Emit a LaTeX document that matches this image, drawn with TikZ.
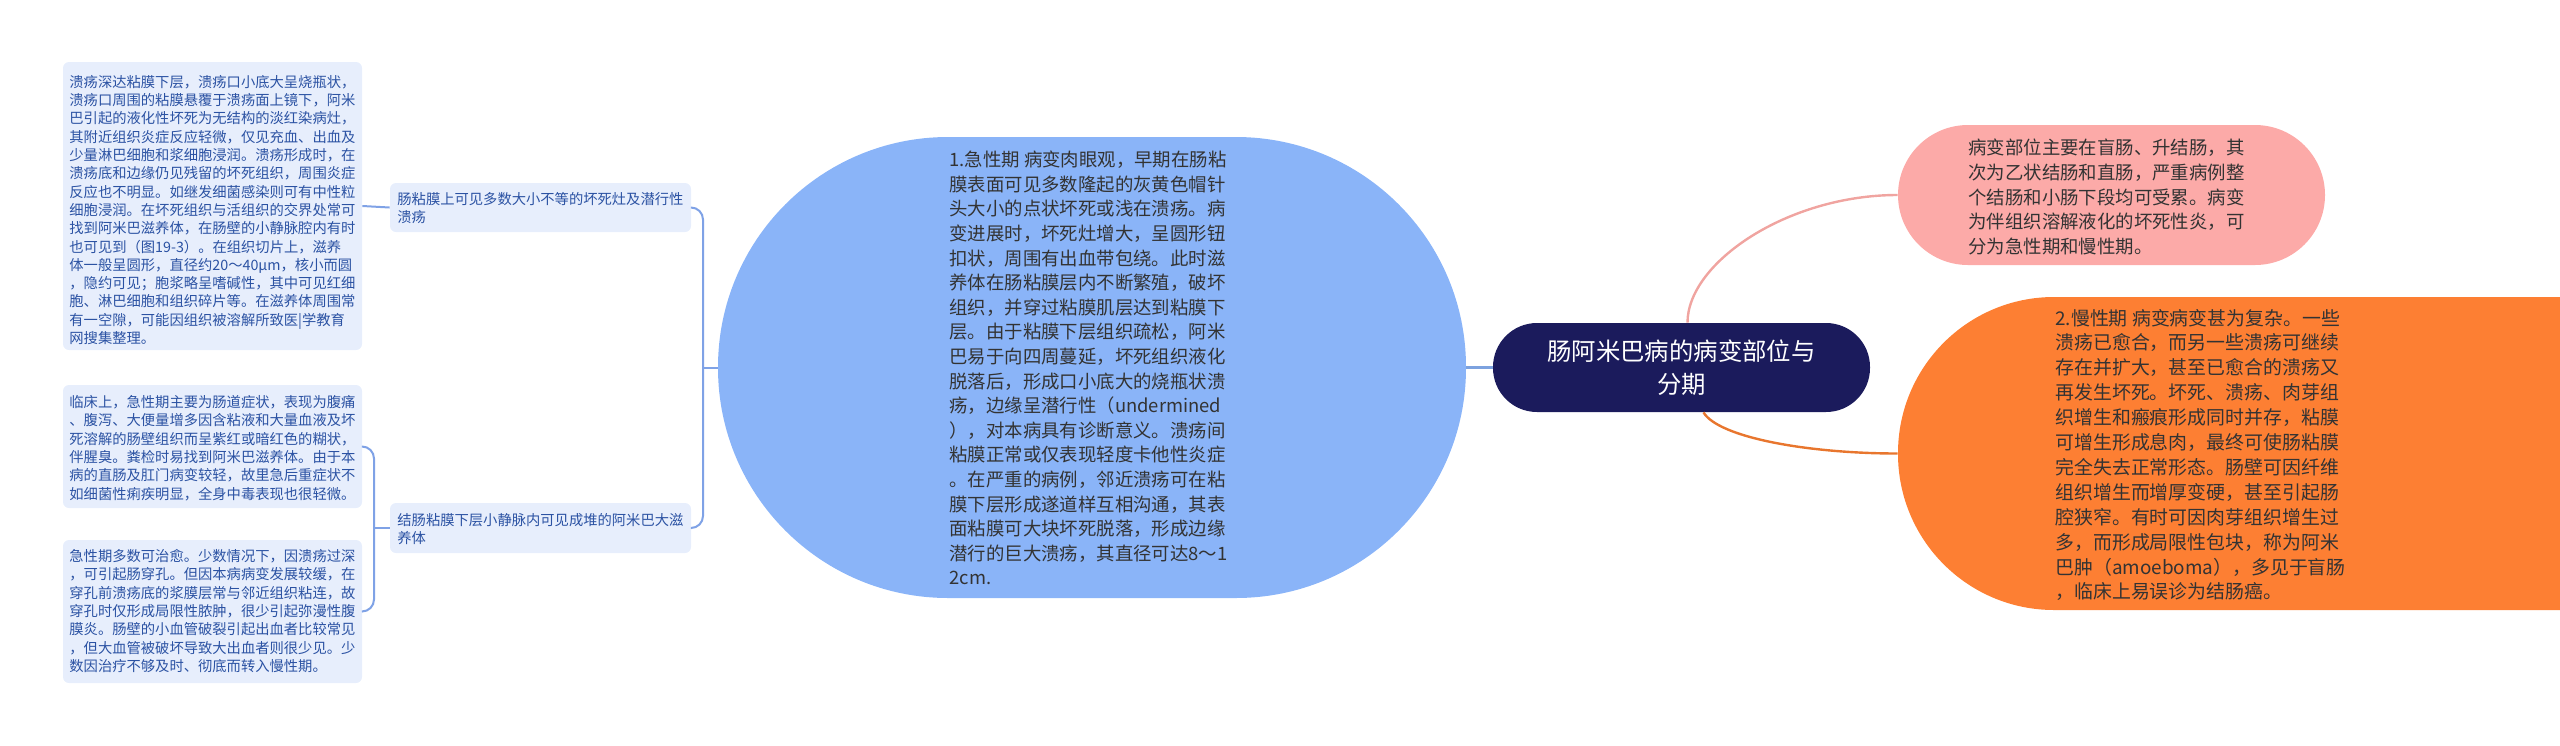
\documentclass[tikz,border=0pt]{standalone}
\usepackage{fontspec}
\setmainfont{Noto Sans CJK SC}
\usetikzlibrary{fit,calc}
\definecolor{navy}{HTML}{1B1B5C}
\definecolor{acutefill}{HTML}{8AB4F8}
\definecolor{pinkfill}{HTML}{FCAAA8}
\definecolor{orangefill}{HTML}{FD7F33}
\definecolor{leaffill}{HTML}{E7EEFC}
\definecolor{leafink}{HTML}{2B52A3}
\definecolor{darkink}{HTML}{333333}
\definecolor{linkblue}{HTML}{7FA2E6}
\definecolor{linkpink}{HTML}{F0A4A0}
\definecolor{linkorange}{HTML}{E8762E}

\begin{document}
\begin{tikzpicture}[x=0.5pt,y=-0.5pt,
    leaf/.style={fill=leaffill, rounded corners=3pt, inner sep=0pt},
    leaftext/.style={inner sep=0pt, align=left, text=leafink,
      font=\fontsize{7.15pt}{9.15pt}\selectfont},
    bigtext/.style={inner sep=0pt, align=left, text=darkink,
      font=\fontsize{9.2pt}{12.3pt}\selectfont},
    link/.style={draw=linkblue, line width=1pt}]
    \path[use as bounding box, clip] (0,0) rectangle (2560,745);

    \node[fit={(1493,323) (1870,412)}, inner sep=0pt, fill=navy, rounded corners=22pt] (centre) {};
    \node[text=white, align=center, inner sep=0pt,
      font=\fontsize{12.2pt}{16.5pt}\selectfont] (centretxt) at (centre.center)
      {肠阿米巴病的病变部位与\\分期};

    \node[fit={(718,137) (1466,598)}, inner sep=0pt, fill=acutefill, rounded corners=115pt] (acute) {};
    \node[bigtext, anchor=west] (acutetxt) at (949,368)
      {1.急性期 病变肉眼观，早期在肠粘\\
       膜表面可见多数隆起的灰黄色帽针\\
       头大小的点状坏死或浅在溃疡。病\\
       变进展时，坏死灶增大，呈圆形钮\\
       扣状，周围有出血带包绕。此时滋\\
       养体在肠粘膜层内不断繁殖，破坏\\
       组织，并穿过粘膜肌层达到粘膜下\\
       层。由于粘膜下层组织疏松，阿米\\
       巴易于向四周蔓延，坏死组织液化\\
       脱落后，形成口小底大的烧瓶状溃\\
       疡，边缘呈潜行性（undermined\\
       ），对本病具有诊断意义。溃疡间\\
       粘膜正常或仅表现轻度卡他性炎症\\
       。在严重的病例，邻近溃疡可在粘\\
       膜下层形成遂道样互相沟通，其表\\
       面粘膜可大块坏死脱落，形成边缘\\
       潜行的巨大溃疡，其直径可达8～1\\
       2cm.};

    \node[fit={(1898,125) (2325,265)}, inner sep=0pt, fill=pinkfill, rounded corners=35pt] (site) {};
    \node[bigtext, anchor=west] (sitetxt) at (1968,197)
      {病变部位主要在盲肠、升结肠，其\\
       次为乙状结肠和直肠，严重病例整\\
       个结肠和小肠下段均可受累。病变\\
       为伴组织溶解液化的坏死性炎，可\\
       分为急性期和慢性期。};

    \node[fit={(1898,297) (2720,610)}, inner sep=0pt, fill=orangefill, rounded corners=78pt] (chronic) {};
    \node[bigtext, anchor=west, font=\fontsize{9.45pt}{12.45pt}\selectfont] (chronictxt) at (2055,455)
      {2.慢性期 病变病变甚为复杂。一些\\
       溃疡已愈合，而另一些溃疡可继续\\
       存在并扩大，甚至已愈合的溃疡又\\
       再发生坏死。坏死、溃疡、肉芽组\\
       织增生和瘢痕形成同时并存，粘膜\\
       可增生形成息肉，最终可使肠粘膜\\
       完全失去正常形态。肠壁可因纤维\\
       组织增生而增厚变硬，甚至引起肠\\
       腔狭窄。有时可因肉芽组织增生过\\
       多，而形成局限性包块，称为阿米\\
       巴肿（amoeboma），多见于盲肠\\
       ，临床上易误诊为结肠癌。};

    \node[fit={(390,183) (691,232)}, leaf] (mucosa) {};
    \node[leaftext, anchor=west] at (397,208) {肠粘膜上可见多数大小不等的坏死灶及潜行性\\溃疡};
    \node[fit={(390,503) (691,553)}, leaf] (vein) {};
    \node[leaftext, anchor=west] at (397,529) {结肠粘膜下层小静脉内可见成堆的阿米巴大滋\\养体};

    \node[fit={(63,62) (362,350)}, leaf] (ulcer) {};
    \node[leaftext, anchor=west] at (69,210)
      {溃疡深达粘膜下层，溃疡口小底大呈烧瓶状，\\
       溃疡口周围的粘膜悬覆于溃疡面上镜下，阿米\\
       巴引起的液化性坏死为无结构的淡红染病灶，\\
       其附近组织炎症反应轻微，仅见充血、出血及\\
       少量淋巴细胞和浆细胞浸润。溃疡形成时，在\\
       溃疡底和边缘仍见残留的坏死组织，周围炎症\\
       反应也不明显。如继发细菌感染则可有中性粒\\
       细胞浸润。在坏死组织与活组织的交界处常可\\
       找到阿米巴滋养体，在肠壁的小静脉腔内有时\\
       也可见到（图19-3）。在组织切片上，滋养\\
       体一般呈圆形，直径约20～40μm，核小而圆\\
       ，隐约可见；胞浆略呈嗜碱性，其中可见红细\\
       胞、淋巴细胞和组织碎片等。在滋养体周围常\\
       有一空隙，可能因组织被溶解所致医|学教育\\
       网搜集整理。};

    \node[fit={(63,385) (362,508)}, leaf] (clinic) {};
    \node[leaftext, anchor=west] at (69,448)
      {临床上，急性期主要为肠道症状，表现为腹痛\\
       、腹泻、大便量增多因含粘液和大量血液及坏\\
       死溶解的肠壁组织而呈紫红或暗红色的糊状，\\
       伴腥臭。粪检时易找到阿米巴滋养体。由于本\\
       病的直肠及肛门病变较轻，故里急后重症状不\\
       如细菌性痢疾明显，全身中毒表现也很轻微。};

    \node[fit={(63,540) (362,683)}, leaf] (outcome) {};
    \node[leaftext, anchor=west] at (69,611)
      {急性期多数可治愈。少数情况下，因溃疡过深\\
       ，可引起肠穿孔。但因本病病变发展较缓，在\\
       穿孔前溃疡底的浆膜层常与邻近组织粘连，故\\
       穿孔时仅形成局限性脓肿，很少引起弥漫性腹\\
       膜炎。肠壁的小血管破裂引起出血者比较常见\\
       ，但大血管被破坏导致大出血者则很少见。少\\
       数因治疗不够及时、彻底而转入慢性期。};

    \draw[draw=acutefill!90!black, line width=1.5pt] (centre.west) -- (acute.east);
    \draw[draw=linkpink, line width=1.2pt] ($(centre.north)+(6,0)$)
      .. controls +(0,-60) and +(-110,0) .. (site.west);
    \draw[draw=linkorange, line width=1.2pt] ($(centre.south)+(22,0)$)
      .. controls +(15,25) and +(-90,0) .. (chronic.west);

    \coordinate (acutejoin) at (703,367.5);
    \draw[link] (acute.west) -- (acutejoin);
    \draw[link, rounded corners=6pt] (mucosa.east) -| (acutejoin) |- (vein.east);
    \draw[link] (mucosa.west) -- (ulcer.east);
    \coordinate (veinjoin) at (374,528);
    \draw[link] (vein.west) -- (veinjoin);
    \draw[link, rounded corners=6pt] (clinic.east) -| (veinjoin) |- (outcome.east);
\end{tikzpicture}
\end{document}
